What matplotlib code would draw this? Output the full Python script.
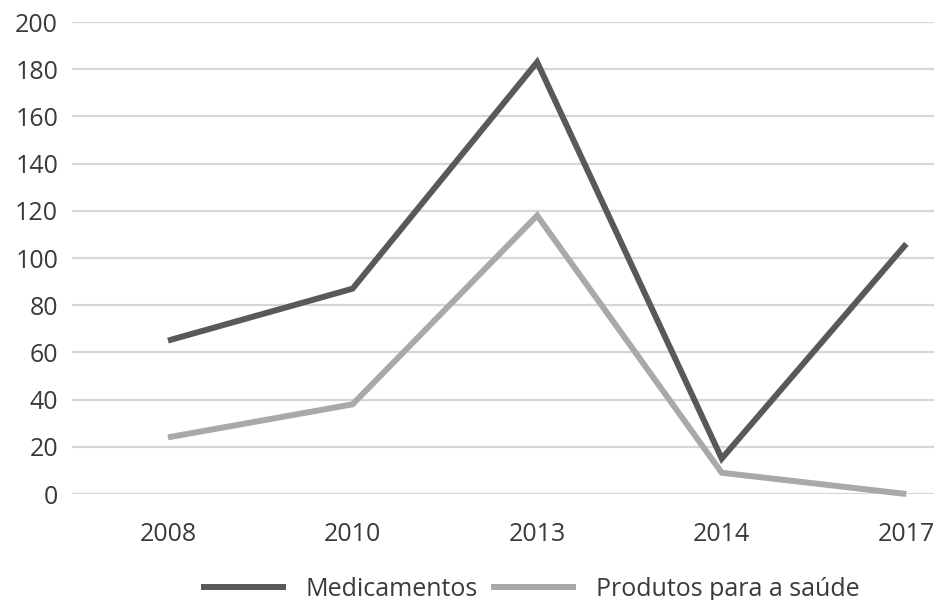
import matplotlib
matplotlib.use("Agg")
import matplotlib.pyplot as plt

plt.rcParams['font.family'] = ['Open Sans', 'DejaVu Sans']

years = ["2008", "2010", "2013", "2014", "2017"]
medicamentos = [65, 87, 183, 15, 106]
produtos_saude = [24, 38, 118, 9, 0]
y_ticks = [0, 20, 40, 60, 80, 100, 120, 140, 160, 180, 200]

dark = "#58595b"
light = "#a7a9ac"
grid = "#d6d6d6"
text_color = "#3a3a3a"
fs = 18

fig = plt.figure(figsize=(9.34, 6.0), dpi=100)
ax = fig.add_axes([72 / 934, 1 - 494 / 600, 1 - 72 / 934, 472 / 600])

x = list(range(len(years)))
ax.plot(x, medicamentos, color=dark, lw=4.3, solid_joinstyle="miter",
        solid_capstyle="butt", label="Medicamentos", clip_on=False, zorder=3)
ax.plot(x, produtos_saude, color=light, lw=4.3, solid_joinstyle="miter",
        solid_capstyle="butt", label="Produtos para a saúde", clip_on=False, zorder=2)

ax.set_ylim(0, 200)
ax.set_xlim(-0.52, 4.15)
ax.set_yticks(y_ticks)
ax.set_xticks(x)
ax.set_xticklabels(years)
ax.yaxis.grid(True, color=grid, lw=1.6)
ax.set_axisbelow(True)
for s in ax.spines.values():
    s.set_visible(False)
ax.tick_params(axis="both", length=0, labelsize=fs, colors=text_color)
ax.tick_params(axis="y", pad=10)
ax.tick_params(axis="x", pad=20)

leg = fig.legend(loc="center", bbox_to_anchor=(530 / 934, 1 - 589 / 600), ncol=2,
                 frameon=False, fontsize=fs, handlelength=3.4, handletextpad=0.8,
                 columnspacing=0.5, labelcolor=text_color)

fig.savefig("out.png", dpi=100)
